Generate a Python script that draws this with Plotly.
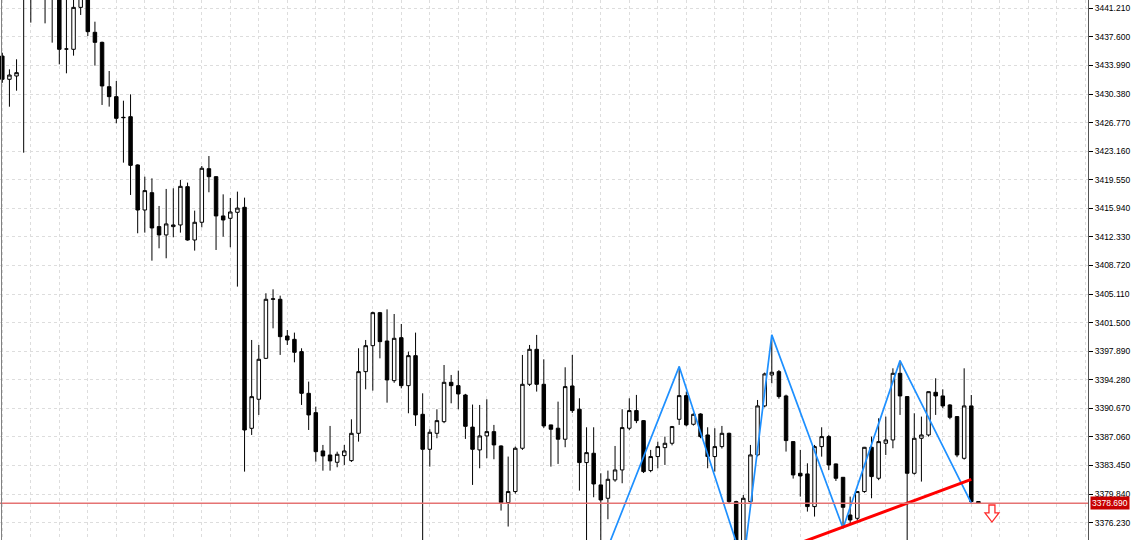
import plotly.graph_objects as go

# ---------------- data ----------------
opens = [3435.18, 3432.24, 3432.66, 3444.5, 3446.0, 3444.2, 3445.5, 3444.6, 3443.6, 3436.07,
         3436.03, 3441.33, 3442.6, 3438.18, 3436.91, 3431.31, 3430.05, 3427.44, 3427.52, 3421.42,
         3415.73, 3417.92, 3413.63, 3412.58, 3413.63, 3413.84, 3418.68, 3411.94, 3414.18, 3420.95,
         3419.94, 3414.98, 3414.68, 3415.44, 3416.07, 3388.15, 3391.82, 3396.99, 3404.45, 3404.45,
         3399.81, 3399.39, 3397.84, 3392.57, 3390.13, 3385.29, 3384.78, 3383.86, 3384.70, 3384.07,
         3387.52, 3395.31, 3398.59, 3402.76, 3399.18, 3394.17, 3399.60, 3393.54, 3397.33, 3389.92,
         3385.50, 3387.52, 3388.99, 3393.96, 3393.54, 3392.36, 3388.30, 3385.42, 3387.19, 3387.73,
         3385.92, 3378.77, 3380.16, 3385.63, 3393.71, 3398.13, 3393.71, 3388.58, 3388.16, 3386.77,
         3393.50, 3390.56, 3383.82, 3385.00, 3381.00, 3379.31, 3381.63, 3382.89, 3388.16, 3390.39,
         3389.12, 3382.81, 3384.58, 3385.71, 3386.26, 3389.29, 3392.28, 3388.66, 3389.96, 3387.31,
         3384.58, 3385.84, 3387.52, 3378.89, 3373.20, 3378.89, 3384.79, 3390.98, 3394.89, 3395.31,
         3392.24, 3386.47, 3382.47, 3382.39, 3378.26, 3385.84, 3387.10, 3383.65, 3381.96, 3377.20,
         3376.78, 3380.16, 3385.75, 3381.84, 3386.26, 3386.68, 3395.10, 3392.16, 3382.47, 3386.89,
         3387.31, 3392.70, 3392.24, 3391.10, 3389.63, 3384.36, 3390.98, 3378.90]
highs = [3435.60, 3433.50, 3434.77, 3448.0, 3447.5, 3447.0, 3446.8, 3445.5, 3444.2, 3442.8,
         3442.4, 3443.2, 3443.0, 3439.52, 3437.00, 3433.29, 3432.03, 3429.54, 3430.34, 3421.50,
         3419.94, 3419.73, 3416.24, 3418.39, 3418.47, 3419.52, 3419.19, 3415.65, 3421.29, 3422.55,
         3420.00, 3417.71, 3417.25, 3418.05, 3417.29, 3399.31, 3398.68, 3405.21, 3405.71, 3404.91,
         3400.57, 3400.24, 3398.26, 3394.05, 3390.89, 3386.05, 3388.45, 3385.20, 3386.05, 3389.29,
         3398.26, 3399.31, 3402.89, 3402.85, 3403.18, 3402.59, 3401.33, 3397.84, 3400.24, 3392.57,
         3388.03, 3390.55, 3396.15, 3394.89, 3395.44, 3392.50, 3391.15, 3391.10, 3391.82, 3388.58,
         3386.00, 3384.58, 3385.84, 3397.42, 3398.68, 3399.95, 3396.87, 3388.60, 3391.52, 3395.86,
         3397.42, 3391.95, 3388.28, 3388.28, 3382.47, 3382.81, 3385.92, 3390.56, 3391.94, 3392.37,
         3389.20, 3385.42, 3386.47, 3387.10, 3388.45, 3395.95, 3392.79, 3390.05, 3390.05, 3388.28,
         3388.16, 3388.45, 3387.60, 3379.00, 3379.73, 3386.05, 3391.73, 3395.19, 3399.95, 3395.52,
         3392.40, 3386.50, 3385.42, 3383.73, 3386.05, 3388.28, 3387.31, 3383.70, 3382.00, 3379.52,
         3380.20, 3385.80, 3387.10, 3389.42, 3389.63, 3395.73, 3396.70, 3392.20, 3390.05, 3389.63,
         3392.80, 3394.47, 3393.08, 3391.20, 3389.70, 3395.73, 3392.36, 3378.95]
lows = [3431.80, 3428.78, 3430.80, 3422.97, 3439.40, 3443.0, 3439.31, 3436.87, 3434.13, 3433.00,
        3435.23, 3440.37, 3437.71, 3433.97, 3429.00, 3428.79, 3426.68, 3421.71, 3417.63, 3412.79,
        3412.87, 3409.33, 3410.89, 3409.63, 3412.28, 3412.87, 3411.86, 3410.60, 3413.54, 3417.97,
        3410.68, 3412.36, 3411.02, 3406.05, 3382.68, 3387.31, 3389.84, 3396.90, 3400.78, 3397.42,
        3398.68, 3396.49, 3391.10, 3387.94, 3383.94, 3382.80, 3382.80, 3383.23, 3383.52, 3383.90,
        3386.47, 3393.08, 3392.91, 3396.99, 3391.39, 3393.90, 3393.20, 3390.05, 3388.45, 3373.00,
        3383.31, 3386.89, 3388.80, 3391.31, 3390.55, 3386.81, 3381.00, 3383.10, 3384.37, 3384.24,
        3377.76, 3375.74, 3379.90, 3385.42, 3393.50, 3392.79, 3388.20, 3383.31, 3383.65, 3385.76,
        3390.10, 3380.28, 3372.80, 3379.44, 3370.86, 3376.66, 3381.40, 3381.21, 3387.90, 3388.80,
        3382.50, 3382.60, 3383.10, 3383.52, 3386.00, 3388.58, 3388.40, 3388.50, 3386.90, 3383.10,
        3382.68, 3385.60, 3378.60, 3372.40, 3371.00, 3378.70, 3384.60, 3390.80, 3393.84, 3391.90,
        3385.21, 3381.80, 3379.52, 3377.63, 3377.00, 3384.57, 3382.89, 3381.50, 3375.52, 3375.94,
        3376.50, 3380.00, 3379.31, 3381.60, 3384.78, 3385.63, 3389.84, 3373.20, 3382.30, 3381.42,
        3387.10, 3389.84, 3390.70, 3389.30, 3384.50, 3384.20, 3378.70, 3378.69]
closes = [3432.24, 3432.78, 3433.08, 3446.0, 3444.2, 3445.5, 3444.6, 3443.6, 3436.03, 3436.07,
          3441.33, 3442.6, 3438.26, 3436.91, 3431.40, 3430.05, 3427.31, 3427.40, 3421.37, 3415.73,
          3418.18, 3413.46, 3412.58, 3413.97, 3413.84, 3418.72, 3411.94, 3414.18, 3421.00, 3419.94,
          3414.98, 3414.47, 3415.48, 3415.97, 3387.94, 3392.15, 3396.87, 3404.45, 3404.50, 3399.73,
          3399.31, 3397.75, 3392.57, 3389.84, 3385.20, 3384.66, 3384.03, 3384.87, 3385.29, 3387.52,
          3395.31, 3398.59, 3402.76, 3399.10, 3394.26, 3399.52, 3393.54, 3397.33, 3389.84, 3385.50,
          3387.65, 3389.12, 3393.96, 3393.54, 3392.49, 3388.40, 3385.50, 3387.19, 3387.73, 3386.05,
          3378.77, 3380.16, 3385.63, 3393.71, 3398.13, 3393.71, 3388.45, 3388.03, 3386.77, 3393.42,
          3390.39, 3383.82, 3385.08, 3381.12, 3379.10, 3381.71, 3382.89, 3388.24, 3390.39, 3389.12,
          3382.68, 3384.58, 3385.84, 3386.26, 3388.37, 3392.28, 3388.58, 3389.92, 3387.10, 3384.58,
          3385.84, 3387.52, 3378.89, 3373.20, 3379.31, 3384.79, 3390.98, 3395.02, 3395.23, 3392.16,
          3386.60, 3382.26, 3382.13, 3378.26, 3385.84, 3387.10, 3383.52, 3381.84, 3378.17, 3376.57,
          3380.16, 3385.75, 3382.05, 3386.47, 3386.68, 3395.10, 3392.24, 3382.47, 3386.89, 3387.31,
          3392.78, 3392.24, 3390.98, 3389.54, 3384.78, 3390.98, 3378.90, 3378.69]
bars = list(range(len(opens)))

price_ticks = [3441.210, 3437.600, 3433.990, 3430.380, 3426.770, 3423.160, 3419.550,
               3415.940, 3412.330, 3408.720, 3405.110, 3401.500, 3397.890, 3394.280,
               3390.670, 3387.060, 3383.450, 3379.840, 3376.230]
tick_labels = ["%.3f" % v for v in price_ticks]

bid_price = 3378.690

# zigzag swing points: (bar index, 'H' or 'L')
zz_points = [(84, "L"), (95, "H"), (104, "L"), (108, "H"), (118, "L"), (126, "H"), (136, "L")]
zz_x = [p[0] for p in zz_points]
zz_y = [lows[i] if t == "L" else highs[i] for i, t in zz_points]

# trend line (start / end anchor)
trend_x = [104, 136]
trend_y = [3371.0, 3381.7]

# sell arrow
arrow_bar = 138.9
arrow_top = 3378.46

# ---------------- figure ----------------
fig = go.Figure()

fig.add_trace(go.Candlestick(
    x=bars, open=opens, high=highs, low=lows, close=closes,
    increasing=dict(line=dict(color="#000000", width=1), fillcolor="#FFFFFF"),
    decreasing=dict(line=dict(color="#000000", width=1), fillcolor="#000000"),
    whiskerwidth=0, hoverinfo="skip", showlegend=False,
))

fig.add_trace(go.Scatter(
    x=zz_x, y=zz_y, mode="lines",
    line=dict(color="#1E90FF", width=1.7),
    hoverinfo="skip", showlegend=False,
))

fig.add_trace(go.Scatter(
    x=trend_x, y=trend_y, mode="lines",
    line=dict(color="#FF0000", width=3),
    hoverinfo="skip", showlegend=False,
))

# bid line
fig.add_shape(type="line", xref="paper", x0=0, x1=1, yref="y", y0=bid_price, y1=bid_price,
              line=dict(color="#E57373", width=1.5), layer="above")

# left border
fig.add_shape(type="line", xref="paper", x0=0.0014, x1=0.0014, yref="paper", y0=0, y1=1,
              line=dict(color="#7F7F7F", width=1))

# hollow down arrow (sell signal)
ax = arrow_bar
hw_s, hw_h = 0.42, 0.98   # half widths of shaft / head in bar units
y0 = arrow_top
y1 = arrow_top - 1.0      # shaft bottom
y2 = arrow_top - 2.15     # tip
path = (f"M {ax-hw_s},{y0} L {ax+hw_s},{y0} L {ax+hw_s},{y1} L {ax+hw_h},{y1} "
        f"L {ax},{y2} L {ax-hw_h},{y1} L {ax-hw_s},{y1} Z")
fig.add_shape(type="path", xref="x", yref="y", path=path,
              line=dict(color="#FF2A2A", width=1.3), fillcolor="#FFFFFF", layer="above")

# bid price label on the axis
fig.add_annotation(xref="paper", x=1, xanchor="left", xshift=2, yref="y", y=bid_price,
                   text="3378.690", showarrow=False, bgcolor="#C80000",
                   font=dict(color="#FFFFFF", size=8.5, family="Liberation Sans"),
                   borderpad=1)

grid_color = "#DDDDDD"
fig.update_layout(
    width=1140, height=540,
    margin=dict(l=0, r=52, t=0, b=0),
    paper_bgcolor="#FFFFFF", plot_bgcolor="#FFFFFF",
    showlegend=False,
    hovermode=False,
    xaxis=dict(
        range=[-0.323, 152.38], rangeslider=dict(visible=False),
        tickmode="linear", tick0=4, dtick=4, showticklabels=False, ticks="",
        showgrid=True, gridcolor=grid_color, griddash="3px,3px", gridwidth=1,
        zeroline=False, showline=False,
    ),
    yaxis=dict(
        range=[3374.04, 3442.26], side="right",
        tickmode="array", tickvals=price_ticks, ticktext=tick_labels,
        ticks="outside", ticklen=4, tickcolor="#000000", tickwidth=1,
        tickfont=dict(family="Liberation Sans", size=8.5, color="#000000"),
        showgrid=True, gridcolor=grid_color, griddash="3px,3px", gridwidth=1,
        showline=True, linecolor="#555555", linewidth=1, mirror=False,
        zeroline=False,
    ),
)

fig.write_html("out.html",
               config={"displayModeBar": False},
               post_script="document.body.style.margin='0';document.body.style.overflow='hidden';")
